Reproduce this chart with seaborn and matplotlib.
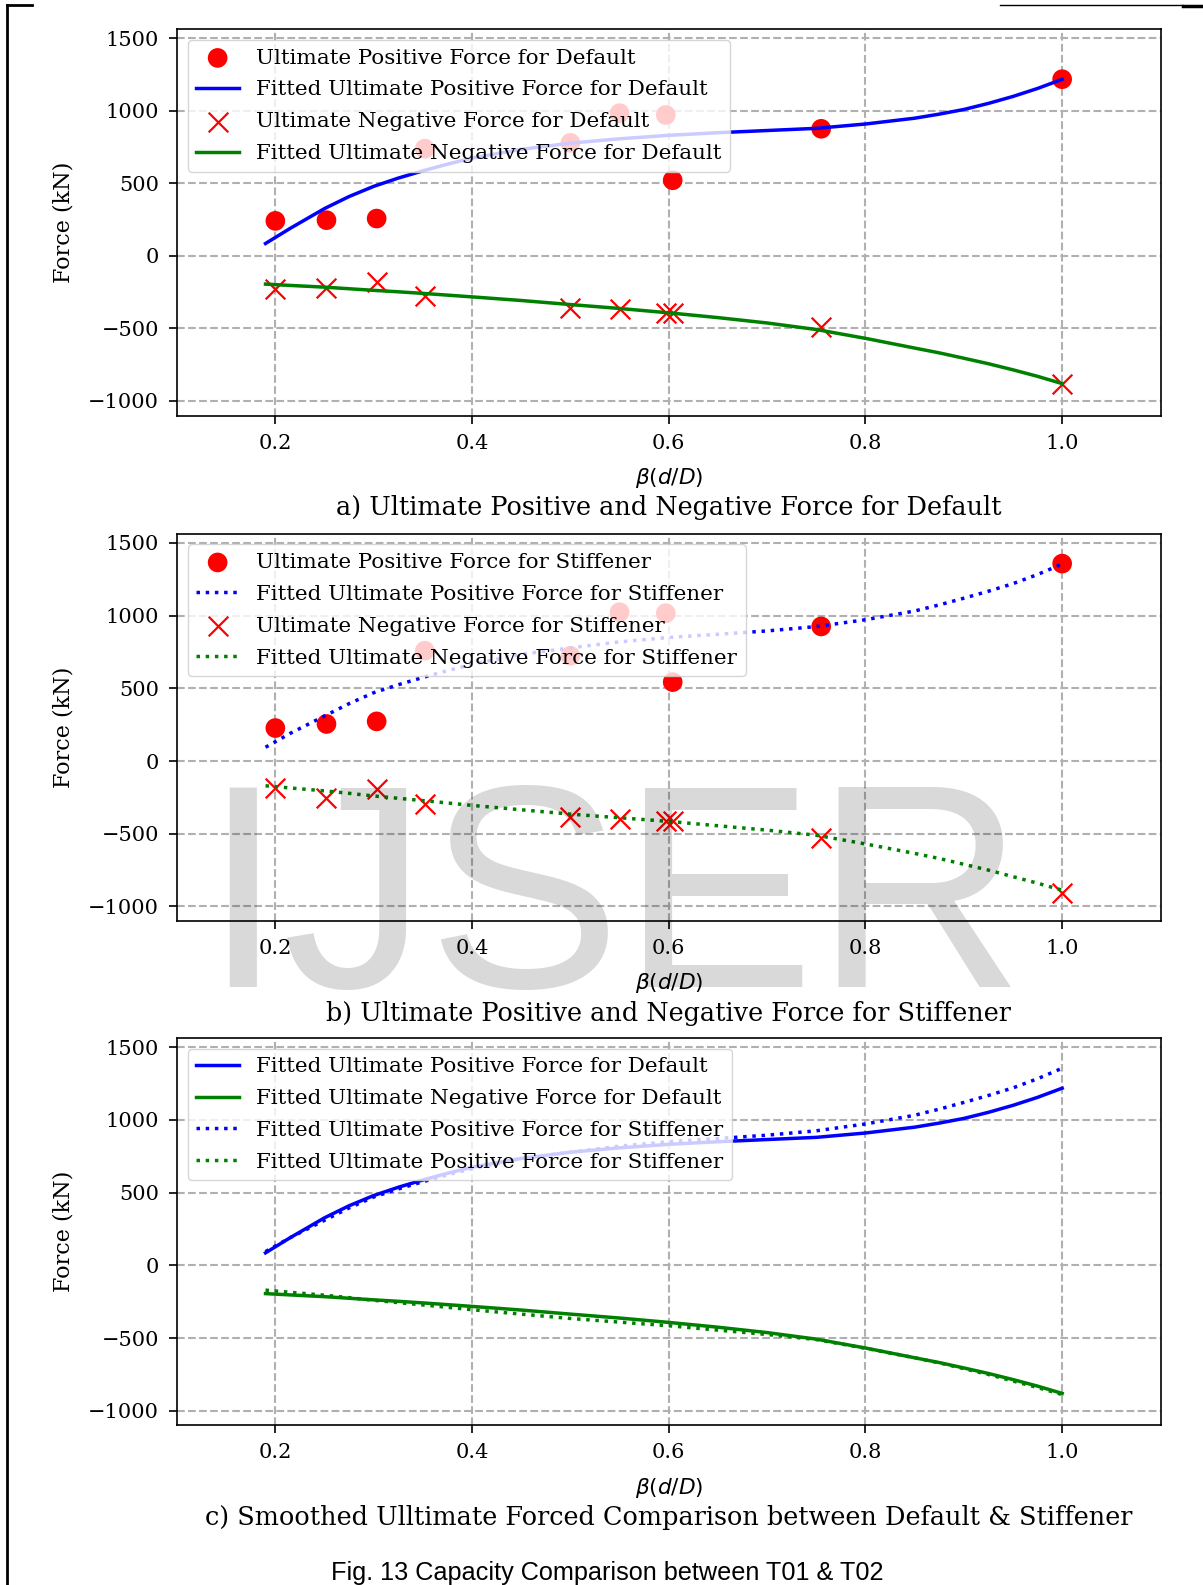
import matplotlib
matplotlib.use('Agg')
import matplotlib.pyplot as plt
from matplotlib.lines import Line2D
import seaborn as sns

plt.rcParams['font.family'] = ['DejaVu Serif']
plt.rcParams['axes.linewidth'] = 1.2

# beta(d/D) of the measured cases
beta = [0.2, 0.252, 0.303, 0.352, 0.5, 0.55, 0.597, 0.604, 0.755, 1.0]

# Default
pos_default = [242, 247, 258, 740, 780, 985, 972, 522, 877, 1219]
neg_default = [-230, -224, -178, -277, -362, -369, -396, -396, -490, -883]

# Stiffener
pos_stiff = [227, 255, 273, 759, 724, 1024, 1017, 543, 926, 1358]
neg_stiff = [-182, -255, -193, -292, -388, -400, -411, -411, -526, -905]

# fitted curves
beta_fit = [0.19, 0.215, 0.25, 0.275, 0.30, 0.325, 0.35, 0.375, 0.40, 0.45, 0.50,
            0.55, 0.60, 0.65, 0.70, 0.75, 0.80, 0.85, 0.875, 0.90, 0.925,
            0.95, 0.975, 1.00]
fit_pos_default = [86, 190, 327, 410, 480, 537, 587, 633, 675, 735, 778,
                   808, 832, 850, 865, 880, 910, 950, 978, 1010, 1052,
                   1100, 1155, 1218]
fit_neg_default = [-194, -203, -215, -226, -237, -247, -258, -270, -282, -307, -335,
                   -362, -392, -425, -462, -507, -568, -635, -668, -705, -743,
                   -785, -830, -880]
fit_pos_stiff = [95, 190, 310, 395, 470, 525, 575, 622, 665, 735, 778,
                 820, 850, 872, 895, 925, 972, 1032, 1074, 1120, 1168,
                 1220, 1283, 1355]
fit_neg_stiff = [-170, -185, -205, -222, -240, -256, -272, -288, -305, -335, -365,
                 -390, -415, -445, -475, -510, -570, -635, -670, -710, -750,
                 -795, -840, -888]

titles = ['a) Ultimate Positive and Negative Force for Default',
          'b) Ultimate Positive and Negative Force for Stiffener',
          'c) Smoothed Ulltimate Forced Comparison between Default & Stiffener']

W, H = 1203, 1585
fig = plt.figure(figsize=(W / 100, H / 100), dpi=100)

left, right = 177 / W, 1160.5 / W
panels = [(29.3, 415.5), (533.8, 921), (1038, 1425.4)]
axes = []
for top, bot in panels:
    ax = fig.add_axes([left, 1 - bot / H, right - left, (bot - top) / H])
    axes.append(ax)

LW = 2.5
MS = 200


def scatter_pair(ax, pos, neg, fpos, fneg, name, ls):
    sns.scatterplot(x=beta, y=pos, ax=ax, color='red', s=MS, marker='o',
                    edgecolor='none', label='Ultimate Positive Force for ' + name, zorder=3)
    sns.lineplot(x=beta_fit, y=fpos, ax=ax, color='blue', lw=LW, linestyle=ls,
                 label='Fitted Ultimate Positive Force for ' + name, zorder=3)
    sns.scatterplot(x=beta, y=neg, ax=ax, color='red', s=MS, marker='x',
                    linewidth=1.6, label='Ultimate Negative Force for ' + name, zorder=3)
    sns.lineplot(x=beta_fit, y=fneg, ax=ax, color='green', lw=LW, linestyle=ls,
                 label='Fitted Ultimate Negative Force for ' + name, zorder=3)


scatter_pair(axes[0], pos_default, neg_default, fit_pos_default, fit_neg_default, 'Default', '-')
scatter_pair(axes[1], pos_stiff, neg_stiff, fit_pos_stiff, fit_neg_stiff, 'Stiffener', ':')

ax = axes[2]
sns.lineplot(x=beta_fit, y=fit_pos_default, ax=ax, color='blue', lw=LW,
             label='Fitted Ultimate Positive Force for Default')
sns.lineplot(x=beta_fit, y=fit_neg_default, ax=ax, color='green', lw=LW,
             label='Fitted Ultimate Negative Force for Default')
sns.lineplot(x=beta_fit, y=fit_pos_stiff, ax=ax, color='blue', lw=LW, linestyle=':',
             label='Fitted Ultimate Positive Force for Stiffener')
sns.lineplot(x=beta_fit, y=fit_neg_stiff, ax=ax, color='green', lw=LW, linestyle=':',
             label='Fitted Ultimate Positive Force for Stiffener')

for i, ax in enumerate(axes):
    ax.set_xlim(0.1, 1.1)
    ax.set_ylim(-1100, 1563)
    ax.set_xticks([0.2, 0.4, 0.6, 0.8, 1.0])
    ax.set_yticks([-1000, -500, 0, 500, 1000, 1500])
    ax.tick_params(labelsize=15, length=6, width=1.2, pad=7)
    ax.grid(True, linestyle='--', color='#b0b0b0', linewidth=1.5)
    ax.set_axisbelow(True)
    ax.set_xlabel(r'$\beta(d/D)$', fontsize=15.6)
    ax.xaxis.set_label_coords(0.5, -0.13)
    ax.set_ylabel('Force (kN)', fontsize=16)
    ax.yaxis.set_label_coords(-0.104, 0.5)
    ax.legend(loc='upper left', fontsize=15.4, labelspacing=0.6)
    top, bot = panels[i]
    fig.text(0.5 * (left + right), 1 - (bot + 92) / H, titles[i],
             ha='center', va='center', fontsize=18.4)

fig.text(613 / W, 1 - 987 / H, 'IJSER', family='Liberation Sans', fontsize=209,
         color='black', alpha=0.15, ha='center', va='baseline', zorder=20)

fig.text(607 / W, 1 - 1573 / H, 'Fig. 13 Capacity Comparison between T01 & T02',
         family='Liberation Sans', fontsize=18.2, ha='center', va='center')

# page border from the scanned page
fig.add_artist(Line2D([7 / W, 7 / W], [1 - 5 / H, 0], transform=fig.transFigure,
                      color='black', lw=2))
fig.add_artist(Line2D([7 / W, 32 / W], [1 - 5 / H, 1 - 5 / H], transform=fig.transFigure,
                      color='black', lw=2))
fig.add_artist(Line2D([1000 / W, 1183 / W], [1 - 5 / H, 1 - 5 / H], transform=fig.transFigure,
                      color='black', lw=1))
fig.add_artist(Line2D([1183 / W, 1], [1 - 6 / H, 1 - 6 / H], transform=fig.transFigure,
                      color='black', lw=2.5))

fig.savefig('out.png', dpi=100)
